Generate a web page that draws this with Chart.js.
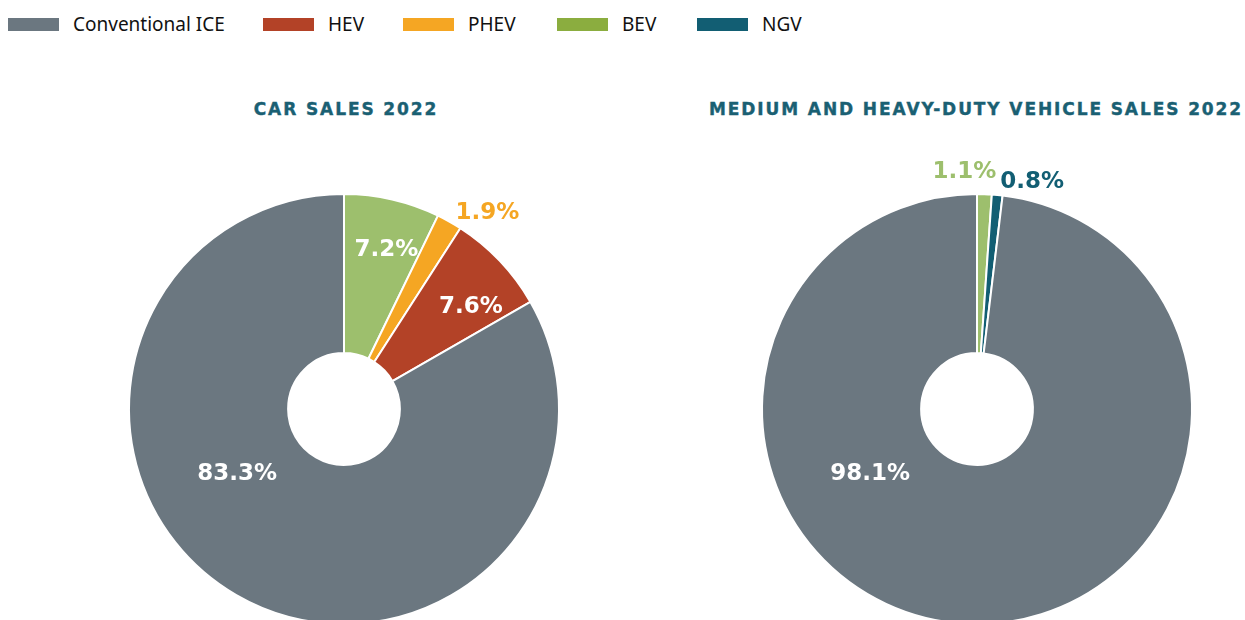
<!DOCTYPE html>
<html>
<head>
<meta charset="utf-8">
<script src="https://cdn.jsdelivr.net/npm/chart.js@4"></script>
<style>
  html, body { margin: 0; padding: 0; background: #fff; }
  body { width: 1245px; height: 620px; overflow: hidden; position: relative; font-family: 'Noto Sans', sans-serif; }
  .legend .item { position: absolute; top: 11px; display: flex; align-items: center; font-size: 19px; color: #111; white-space: nowrap; }
  .legend .box { width: 51px; height: 13px; margin-right: 14px; }
  .title { position: absolute; top: 99px; text-align: center; font-family: 'DejaVu Sans', sans-serif; font-weight: 900; font-size: 17px; letter-spacing: 1.9px; color: #1a6073; white-space: nowrap; transform: translateX(-50%); -webkit-text-stroke: 0.4px #1a6073; }
  canvas { position: absolute; }
</style>
</head>
<body>
<div class="legend" id="legend"></div>
<div class="title" style="left:346px">CAR SALES 2022</div>
<div class="title" style="left:976px">MEDIUM AND HEAVY-DUTY VEHICLE SALES 2022</div>
<canvas id="carChart" width="560" height="560" style="left:64px; top:129px"></canvas>
<canvas id="mhdChart" width="560" height="560" style="left:697px; top:129px"></canvas>
<script>
// Categories (legend order)
const legendLabels = ['Conventional ICE', 'HEV', 'PHEV', 'BEV', 'NGV'];

// Car sales 2022, clockwise from top
const carLabels = ['BEV', 'PHEV', 'HEV', 'Conventional ICE'];
const carValues = [7.2, 1.9, 7.6, 83.3];

// Medium and heavy-duty vehicle sales 2022, clockwise from top
const mhdLabels = ['BEV', 'NGV', 'Conventional ICE'];
const mhdValues = [1.1, 0.8, 98.1];

// Colours
const legendColors = {
  'Conventional ICE': '#6b7780',
  'HEV': '#b34227',
  'PHEV': '#f5a623',
  'BEV': '#8bad3f',
  'NGV': '#125e73'
};
const sliceColors = {
  'Conventional ICE': '#6b7780',
  'HEV': '#b34227',
  'PHEV': '#f5a623',
  'BEV': '#9dbf6d',
  'NGV': '#125e73'
};

// Label placement: angle (deg clockwise from top) and radius fraction, plus colour
const carLabelPlace = [
  { a: 14.8, r: 0.77, color: '#fff' },
  { a: 36, r: 1.135, color: '#f5a623' },
  { a: 51, r: 0.76, color: '#fff' },
  { a: 239, r: 0.58, color: '#fff' }
];
const mhdLabelPlace = [
  { a: -3, r: 1.11, color: '#9dbf6d' },
  { a: 13.6, r: 1.09, color: '#125e73' },
  { a: 239, r: 0.58, color: '#fff' }
];

// Build HTML legend
const legendEl = document.getElementById('legend');
const legendX = [8, 263, 403, 557, 697];
legendLabels.forEach((lbl, i) => {
  const item = document.createElement('div');
  item.className = 'item';
  item.style.left = legendX[i] + 'px';
  item.innerHTML = `<span class="box" style="background:${legendColors[lbl]}"></span><span>${lbl}</span>`;
  legendEl.appendChild(item);
});

// Percent labels on slices
const sliceLabelPlugin = {
  id: 'sliceLabels',
  afterDatasetsDraw(chart, args, opts) {
    const ctx = chart.ctx;
    const meta = chart.getDatasetMeta(0);
    const values = chart.data.datasets[0].data;
    ctx.save();
    ctx.font = "bold 23px 'DejaVu Sans', sans-serif";
    ctx.textAlign = 'center';
    ctx.textBaseline = 'middle';
    meta.data.forEach((arc, i) => {
      const p = opts.place[i];
      const ang = (p.a - 90) * Math.PI / 180;
      const rad = arc.outerRadius * p.r;
      const x = arc.x + Math.cos(ang) * rad;
      const y = arc.y + Math.sin(ang) * rad + 1;
      ctx.fillStyle = p.color;
      ctx.fillText(values[i].toFixed(1) + '%', x, y);
    });
    ctx.restore();
  }
};

function makeDoughnut(id, labels, values, place) {
  return new Chart(document.getElementById(id), {
    type: 'doughnut',
    data: {
      labels: labels,
      datasets: [{
        data: values,
        backgroundColor: labels.map(l => sliceColors[l]),
        borderColor: '#ffffff',
        borderWidth: 2
      }]
    },
    options: {
      responsive: false,
      animation: false,
      radius: 215,
      cutout: '26%',
      plugins: {
        legend: { display: false },
        tooltip: { enabled: false },
        sliceLabels: { place: place }
      }
    },
    plugins: [sliceLabelPlugin]
  });
}

makeDoughnut('carChart', carLabels, carValues, carLabelPlace);
makeDoughnut('mhdChart', mhdLabels, mhdValues, mhdLabelPlace);
</script>
</body>
</html>
